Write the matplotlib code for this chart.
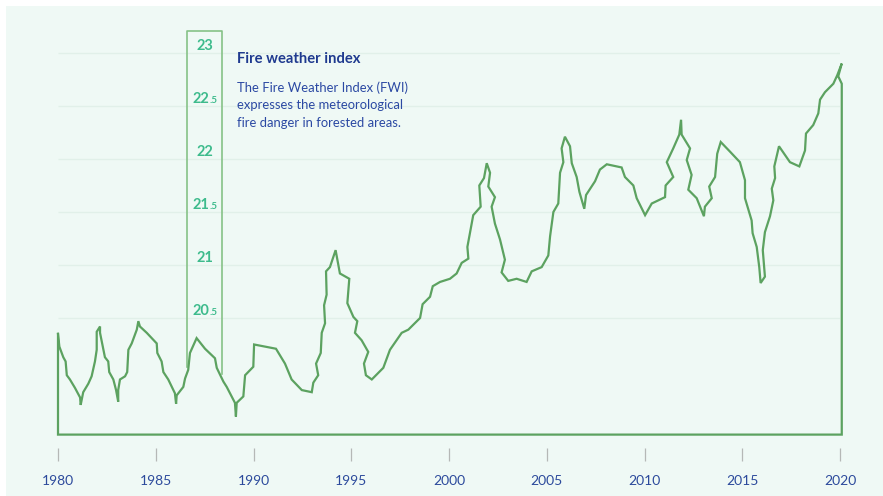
import numpy as np
import matplotlib.pyplot as plt
from matplotlib.patches import Rectangle

# FWI trace, 1980-2020 (hand-drawn style path, so years may step back)
years = [
    1980.00, 1980.07, 1980.27, 1980.39, 1980.45, 1980.61, 1980.87, 1981.13, 1981.16, 1981.29,
    1981.55, 1981.72, 1981.89, 1981.98, 1981.98, 1982.15, 1982.15, 1982.29, 1982.40, 1982.57,
    1982.62, 1982.83, 1982.97, 1983.08, 1983.08, 1983.17, 1983.43, 1983.54, 1983.60, 1983.77,
    1984.03, 1984.11, 1984.19, 1984.54, 1985.05, 1985.08, 1985.30, 1985.39, 1985.64, 1985.98,
    1986.04, 1986.07, 1986.41, 1986.50, 1986.66, 1986.75, 1987.09, 1987.52, 1988.03, 1988.12,
    1988.46, 1988.63, 1988.80, 1989.05, 1989.10, 1989.14, 1989.48, 1989.57, 1989.99, 1990.03,
    1991.15, 1991.61, 1991.95, 1992.47, 1992.98, 1993.06, 1993.31, 1993.20, 1993.44, 1993.49,
    1993.66, 1993.61, 1993.74, 1993.71, 1993.91, 1994.20, 1994.42, 1994.90, 1994.80, 1995.11,
    1995.31, 1995.19, 1995.53, 1995.87, 1995.65, 1995.75, 1996.05, 1996.64, 1996.98, 1997.58,
    1997.92, 1998.52, 1998.65, 1999.03, 1999.17, 1999.54, 2000.05, 2000.39, 2000.65, 2000.99,
    2000.94, 2001.24, 2001.62, 2001.55, 2001.79, 2001.93, 2002.10, 2002.01, 2002.35, 2002.18,
    2002.35, 2002.61, 2002.86, 2002.69, 2003.03, 2003.46, 2003.97, 2004.23, 2004.74, 2005.08,
    2005.17, 2005.34, 2005.59, 2005.68, 2005.85, 2005.76, 2005.93, 2006.19, 2006.28, 2006.53,
    2006.67, 2006.92, 2007.01, 2007.47, 2007.72, 2008.07, 2008.83, 2009.00, 2009.43, 2009.60,
    2010.03, 2010.37, 2011.05, 2011.08, 2011.47, 2011.14, 2011.47, 2011.78, 2011.87, 2011.90,
    2012.33, 2012.16, 2012.41, 2012.24, 2012.67, 2013.04, 2013.09, 2013.44, 2013.31, 2013.61,
    2013.72, 2013.90, 2014.37, 2014.88, 2015.14, 2015.14, 2015.48, 2015.53, 2015.74, 2015.87,
    2015.94, 2016.16, 2016.05, 2016.16, 2016.42, 2016.59, 2016.51, 2016.68, 2016.64, 2016.88,
    2017.44, 2017.92, 2018.21, 2018.26, 2018.63, 2018.89, 2018.98, 2019.23, 2019.66, 2019.86,
    2020.09, 2019.91, 2020.09,
]
fwi = [
    20.35, 20.23, 20.13, 20.09, 19.96, 19.92, 19.84, 19.75, 19.68, 19.80,
    19.88, 19.95, 20.09, 20.20, 20.37, 20.42, 20.36, 20.23, 20.13, 20.09,
    19.99, 19.92, 19.82, 19.71, 19.82, 19.92, 19.95, 19.99, 20.20, 20.26,
    20.39, 20.47, 20.42, 20.36, 20.26, 20.17, 20.09, 19.99, 19.92, 19.79,
    19.69, 19.77, 19.85, 19.93, 20.01, 20.17, 20.31, 20.21, 20.12, 20.03,
    19.90, 19.85, 19.79, 19.70, 19.57, 19.70, 19.76, 19.96, 20.04, 20.25,
    20.21, 20.07, 19.92, 19.82, 19.80, 19.89, 19.96, 20.07, 20.17, 20.36,
    20.45, 20.62, 20.72, 20.94, 20.98, 21.14, 20.92, 20.87, 20.64, 20.51,
    20.47, 20.36, 20.29, 20.18, 20.07, 19.96, 19.92, 20.03, 20.20, 20.36,
    20.39, 20.50, 20.63, 20.70, 20.80, 20.84, 20.87, 20.92, 21.02, 21.06,
    21.17, 21.47, 21.55, 21.75, 21.82, 21.96, 21.87, 21.74, 21.64, 21.55,
    21.39, 21.24, 21.05, 20.93, 20.85, 20.87, 20.84, 20.94, 20.98, 21.09,
    21.27, 21.50, 21.58, 21.87, 21.97, 22.10, 22.21, 22.12, 21.96, 21.83,
    21.69, 21.53, 21.66, 21.79, 21.90, 21.95, 21.92, 21.83, 21.75, 21.63,
    21.47, 21.58, 21.64, 21.75, 21.83, 21.97, 22.10, 22.23, 22.37, 22.23,
    22.10, 21.99, 21.85, 21.71, 21.63, 21.46, 21.55, 21.63, 21.74, 21.83,
    22.05, 22.16, 22.07, 21.97, 21.80, 21.63, 21.42, 21.30, 21.17, 20.98,
    20.83, 20.89, 21.14, 21.31, 21.46, 21.61, 21.72, 21.82, 21.93, 22.12,
    21.97, 21.93, 22.08, 22.24, 22.32, 22.43, 22.56, 22.63, 22.71, 22.79,
    22.90, 22.78, 22.71,
]
BASE = 19.4

y_ticks = [20.5, 21, 21.5, 22, 22.5, 23]
x_ticks = [1980, 1985, 1990, 1995, 2000, 2005, 2010, 2015, 2020]

BG = '#eff9f5'
GRID = '#e1f0e9'
LINE = '#5ca260'
BOX = '#86c287'
TEAL = '#3dbb8c'
NAVY = '#2c4a9c'

plt.rcParams['font.family'] = ['Lato', 'DejaVu Sans']

fig = plt.figure(figsize=(8.83, 4.96), dpi=100, facecolor='white')
fig.patches.append(Rectangle((6 / 883, 0), 1, 1 - 6 / 496, transform=fig.transFigure,
                             facecolor=BG, edgecolor='none', zorder=-5))

ax = fig.add_axes([58 / 883, 35 / 496, 782 / 883, 441 / 496])
ax.set_facecolor('none')
ax.set_xlim(1980, 2020)
ax.set_ylim(19.151, 23.311)
for s in ax.spines.values():
    s.set_visible(False)

# faint horizontal guides
ax.hlines(y_ticks, 1980, 2020, color=GRID, lw=1.0, zorder=1)

# y-axis drawn as a narrow box with the labels inside
bx0, bx1, btop = 1986.6, 1988.4, 23.21
ax.plot([bx0, bx0, bx1, bx1], [20.04, btop, btop, 19.97], color=BOX, lw=1.2,
        zorder=2, clip_on=False)
bxc = (bx0 + bx1) / 2
for v in y_ticks:
    if float(v).is_integer():
        ax.annotate(f'{int(v)}', (bxc, v), xytext=(0, 2), textcoords='offset points',
                    ha='center', va='baseline', fontsize=10.5, fontweight='bold', color=TEAL)
    else:
        ax.annotate(f'{int(v)}', (bxc, v), xytext=(3.5, 2), textcoords='offset points',
                    ha='right', va='baseline', fontsize=10.5, fontweight='bold', color=TEAL)
        ax.annotate('.5', (bxc, v), xytext=(3.5, 2), textcoords='offset points',
                    ha='left', va='baseline', fontsize=7, fontweight='bold', color=TEAL)

# outline of the index, closed down to the baseline
xs = np.r_[years, years[-1], years[0], years[0]]
ys = np.r_[fwi, BASE, BASE, fwi[0]]
ax.plot(xs, ys, color=LINE, lw=1.6, solid_joinstyle='miter', zorder=3, clip_on=False)

ax.set_yticks([])
ax.set_xticks(x_ticks)
ax.set_xticklabels([str(t) for t in x_ticks])
ax.tick_params(axis='x', direction='in', length=9.4, width=0.9, color='#b5b8b6',
               pad=10, labelsize=10, labelcolor=NAVY)

fig.text(237 / 883, 1 - 59 / 496, 'Fire weather index', fontsize=10.6, fontweight='bold',
         color='#1f3a8f', ha='left', va='center')
fig.text(237 / 883, 1 - 81 / 496,
         'The Fire Weather Index (FWI)\nexpresses the meteorological\nfire danger in forested areas.',
         fontsize=9.4, color='#2b49a3', ha='left', va='top', linespacing=1.55)

fig.savefig('out.png', dpi=100, facecolor=fig.get_facecolor())
